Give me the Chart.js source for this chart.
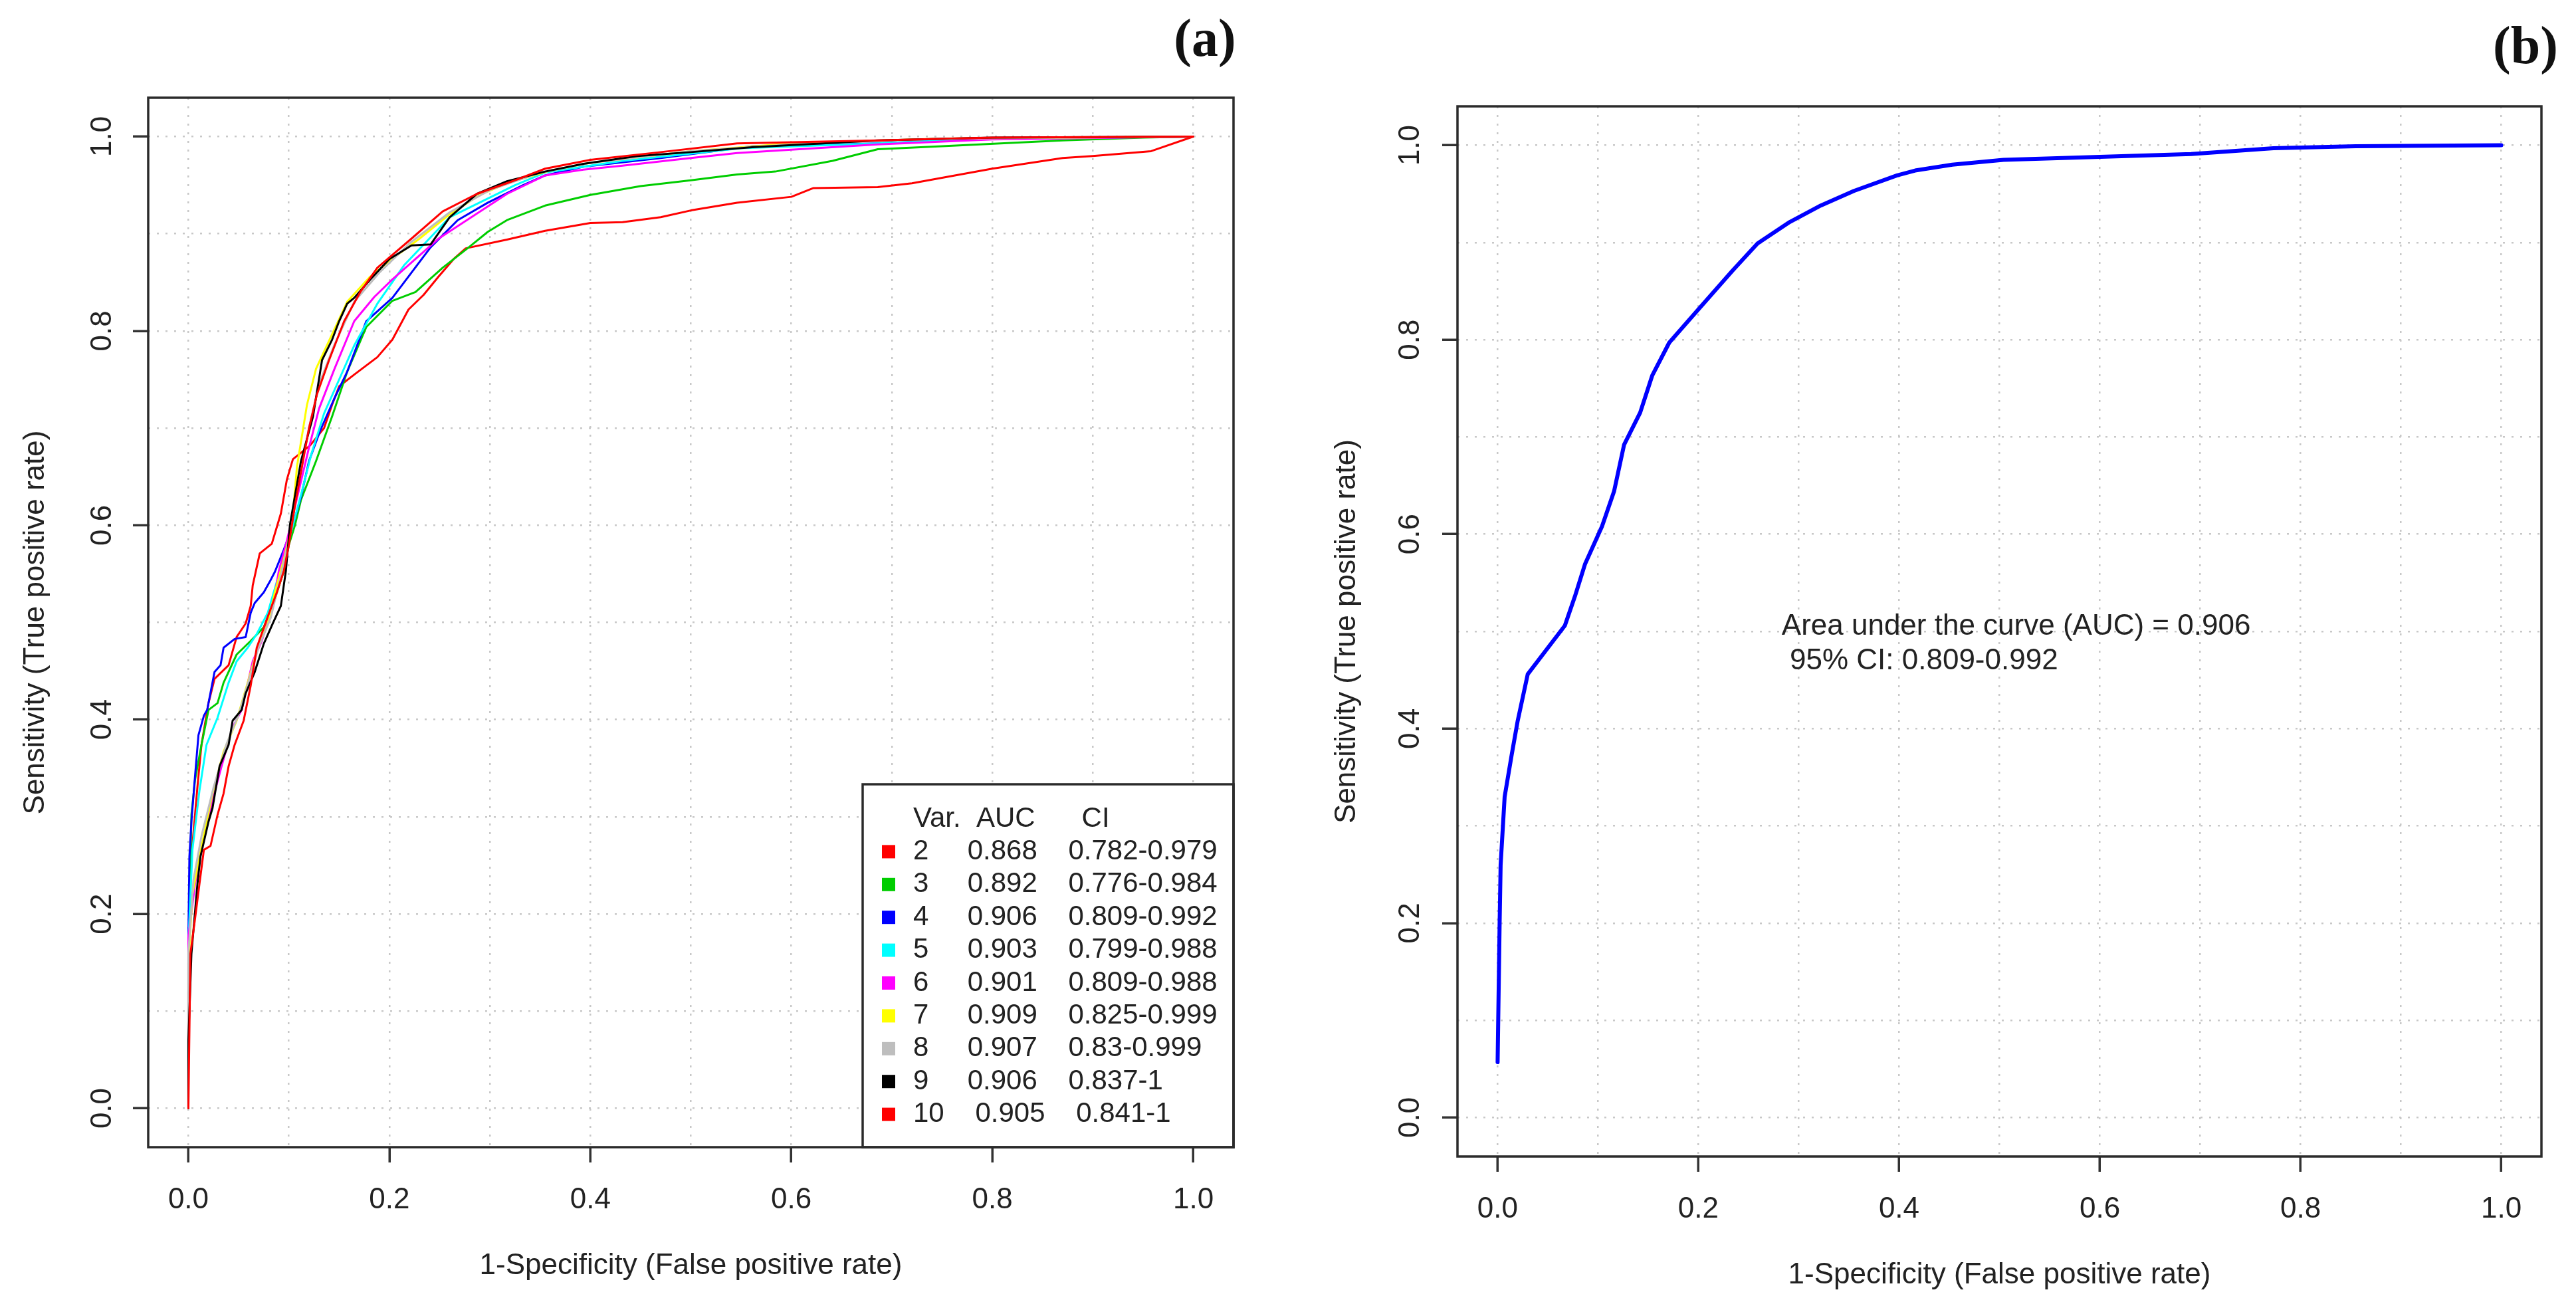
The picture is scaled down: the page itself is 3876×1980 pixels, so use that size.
<!DOCTYPE html>
<html>
<head>
<meta charset="utf-8">
<script src="https://cdn.jsdelivr.net/npm/chart.js@4.4.1/dist/chart.umd.min.js"></script>
<style>
  html, body { margin: 0; padding: 0; background: #fff; }
  #page { position: relative; width: 3876px; height: 1980px; overflow: hidden; background: #fff; }
  canvas { position: absolute; top: 0; }
  .panel-tag { position: absolute; font: bold 80px "Liberation Serif", "Times New Roman", serif; color: #111; transform: translate(-50%, -50%); line-height: 1; }
</style>
</head>
<body>
<div id="page">
  <canvas id="rocA" width="1940" height="1980" style="left:0px"></canvas>
  <canvas id="rocB" width="1936" height="1980" style="left:1940px"></canvas>
  <div class="panel-tag" style="left:1813px; top:57px">(a)</div>
  <div class="panel-tag" style="left:3800px; top:68px">(b)</div>
</div>
<script>
// grade e rótulos dos eixos
const gridValues = [0, 0.1, 0.2, 0.3, 0.4, 0.5, 0.6, 0.7, 0.8, 0.9, 1];
const tickValues = [0, 0.2, 0.4, 0.6, 0.8, 1];
const tickLabels = ['0.0', '0.2', '0.4', '0.6', '0.8', '1.0'];

// legenda do painel (a)
const legendHeader = 'Var.  AUC      CI';
const varNames = ['2', '3', '4', '5', '6', '7', '8', '9', '10'];
const aucValues = ['0.868', '0.892', '0.906', '0.903', '0.901', '0.909', '0.907', '0.906', '0.905'];
const ciLabels = ['0.782-0.979', '0.776-0.984', '0.809-0.992', '0.799-0.988', '0.809-0.988', '0.825-0.999', '0.83-0.999', '0.837-1', '0.841-1'];

// curvas ROC do painel (a): taxa de falso positivo / sensibilidade
const fpr2 = [0, 0, 0.001, 0.003, 0.009, 0.013, 0.02, 0.026, 0.04, 0.048, 0.057, 0.062, 0.064, 0.071, 0.083, 0.092, 0.098, 0.104, 0.121, 0.135, 0.143, 0.15, 0.165, 0.188, 0.203, 0.219, 0.234, 0.249, 0.264, 0.276, 0.317, 0.355, 0.4, 0.432, 0.47, 0.5, 0.546, 0.6, 0.622, 0.686, 0.72, 0.8, 0.87, 0.9, 0.958, 1];
const tpr2 = [0, 0.12, 0.2, 0.259, 0.331, 0.374, 0.417, 0.442, 0.456, 0.485, 0.499, 0.517, 0.538, 0.571, 0.581, 0.612, 0.647, 0.668, 0.682, 0.7, 0.724, 0.743, 0.755, 0.773, 0.791, 0.822, 0.837, 0.856, 0.874, 0.885, 0.894, 0.903, 0.911, 0.912, 0.917, 0.924, 0.932, 0.938, 0.947, 0.948, 0.952, 0.967, 0.978, 0.98, 0.985, 1];
const fpr3 = [0, 0, 0.003, 0.0066, 0.013, 0.02, 0.029, 0.035, 0.048, 0.062, 0.075, 0.086, 0.095, 0.1, 0.106, 0.112, 0.127, 0.143, 0.158, 0.177, 0.203, 0.226, 0.253, 0.279, 0.298, 0.317, 0.355, 0.4, 0.45, 0.5, 0.546, 0.584, 0.641, 0.686, 0.75, 0.87, 0.95, 1];
const tpr3 = [0, 0.15, 0.302, 0.338, 0.374, 0.41, 0.417, 0.438, 0.467, 0.481, 0.495, 0.524, 0.553, 0.58, 0.6, 0.626, 0.666, 0.712, 0.758, 0.804, 0.831, 0.84, 0.865, 0.886, 0.902, 0.914, 0.929, 0.94, 0.949, 0.955, 0.961, 0.964, 0.975, 0.987, 0.99, 0.996, 0.999, 1];
const fpr4 = [0, 0, 0.001, 0.003, 0.0066, 0.01, 0.0154, 0.0187, 0.026, 0.032, 0.035, 0.046, 0.057, 0.062, 0.066, 0.075, 0.081, 0.086, 0.095, 0.104, 0.112, 0.12, 0.131, 0.145, 0.158, 0.177, 0.203, 0.222, 0.241, 0.268, 0.298, 0.333, 0.355, 0.393, 0.47, 0.561, 0.686, 0.8, 1];
const tpr4 = [0, 0.177, 0.259, 0.295, 0.342, 0.384, 0.404, 0.41, 0.449, 0.456, 0.474, 0.483, 0.485, 0.51, 0.52, 0.531, 0.542, 0.552, 0.575, 0.6, 0.629, 0.666, 0.697, 0.73, 0.758, 0.81, 0.834, 0.86, 0.886, 0.914, 0.932, 0.95, 0.96, 0.969, 0.978, 0.99, 0.993, 0.998, 1];
const fpr5 = [0, 0, 0.004, 0.011, 0.018, 0.029, 0.04, 0.048, 0.059, 0.068, 0.079, 0.088, 0.096, 0.104, 0.113, 0.122, 0.135, 0.15, 0.165, 0.188, 0.215, 0.26, 0.325, 0.355, 0.432, 0.55, 0.686, 0.8, 1];
const tpr5 = [0, 0.17, 0.266, 0.327, 0.374, 0.402, 0.438, 0.46, 0.474, 0.488, 0.51, 0.542, 0.57, 0.6, 0.635, 0.672, 0.715, 0.75, 0.785, 0.828, 0.868, 0.917, 0.95, 0.963, 0.975, 0.988, 0.993, 0.998, 1];
const fpr6 = [0, 0, 0.0066, 0.013, 0.024, 0.033, 0.044, 0.053, 0.064, 0.073, 0.084, 0.09, 0.097, 0.104, 0.112, 0.12, 0.13, 0.145, 0.165, 0.185, 0.203, 0.249, 0.317, 0.355, 0.393, 0.432, 0.5, 0.546, 0.686, 0.8, 1];
const tpr6 = [0, 0.177, 0.231, 0.266, 0.317, 0.352, 0.392, 0.41, 0.46, 0.481, 0.517, 0.553, 0.58, 0.61, 0.645, 0.68, 0.72, 0.76, 0.81, 0.835, 0.853, 0.895, 0.941, 0.96, 0.966, 0.97, 0.978, 0.983, 0.992, 0.997, 1];
const fpr7 = [0, 0, 0.004, 0.011, 0.024, 0.035, 0.048, 0.057, 0.068, 0.079, 0.086, 0.095, 0.103, 0.108, 0.118, 0.127, 0.14, 0.158, 0.18, 0.2, 0.23, 0.26, 0.29, 0.32, 0.36, 0.4, 0.5, 0.6, 0.75, 1];
const tpr7 = [0, 0.15, 0.22, 0.259, 0.324, 0.367, 0.399, 0.431, 0.47, 0.499, 0.531, 0.565, 0.6, 0.66, 0.724, 0.761, 0.79, 0.83, 0.855, 0.872, 0.895, 0.92, 0.94, 0.953, 0.965, 0.973, 0.985, 0.993, 0.998, 1];
const fpr8 = [0, 0, 0.005, 0.013, 0.025, 0.038, 0.05, 0.06, 0.07, 0.082, 0.09, 0.1, 0.11, 0.12, 0.13, 0.145, 0.165, 0.19, 0.22, 0.26, 0.3, 0.35, 0.4, 0.5, 0.6, 0.75, 1];
const tpr8 = [0, 0.16, 0.235, 0.28, 0.33, 0.375, 0.405, 0.44, 0.475, 0.505, 0.54, 0.585, 0.645, 0.7, 0.745, 0.785, 0.83, 0.86, 0.89, 0.922, 0.945, 0.963, 0.973, 0.985, 0.992, 0.998, 1];
const fpr9 = [0, 0, 0.003, 0.009, 0.012, 0.02, 0.024, 0.031, 0.04, 0.044, 0.053, 0.057, 0.066, 0.075, 0.084, 0.092, 0.097, 0.101, 0.112, 0.124, 0.133, 0.143, 0.15, 0.158, 0.165, 0.181, 0.2, 0.222, 0.241, 0.26, 0.287, 0.317, 0.355, 0.393, 0.447, 0.5, 0.561, 0.686, 0.8, 1];
const tpr9 = [0, 0.07, 0.159, 0.231, 0.259, 0.295, 0.309, 0.352, 0.374, 0.399, 0.41, 0.427, 0.449, 0.478, 0.499, 0.517, 0.553, 0.6, 0.666, 0.712, 0.77, 0.791, 0.81, 0.828, 0.834, 0.853, 0.874, 0.888, 0.889, 0.917, 0.941, 0.954, 0.964, 0.972, 0.98, 0.984, 0.989, 0.996, 0.999, 1];
const fpr10 = [0, 0.002, 0.0066, 0.011, 0.0154, 0.022, 0.029, 0.035, 0.04, 0.046, 0.055, 0.062, 0.068, 0.079, 0.088, 0.095, 0.1, 0.106, 0.113, 0.12, 0.128, 0.14, 0.155, 0.171, 0.188, 0.222, 0.253, 0.287, 0.325, 0.355, 0.4, 0.47, 0.546, 0.686, 0.8, 1];
const tpr10 = [0, 0.159, 0.195, 0.231, 0.266, 0.27, 0.302, 0.324, 0.352, 0.374, 0.399, 0.435, 0.474, 0.506, 0.531, 0.553, 0.58, 0.62, 0.66, 0.7, 0.735, 0.77, 0.81, 0.84, 0.865, 0.895, 0.923, 0.941, 0.955, 0.967, 0.976, 0.984, 0.993, 0.996, 0.999, 1];

// curva ROC do painel (b)
const fprB = [0, 0.002, 0.003, 0.007, 0.014, 0.02, 0.03, 0.067, 0.077, 0.087, 0.104, 0.116, 0.126, 0.142, 0.154, 0.171, 0.199, 0.234, 0.259, 0.291, 0.322, 0.355, 0.398, 0.416, 0.453, 0.504, 0.6, 0.691, 0.773, 0.855, 1];
const tprB = [0.057, 0.2, 0.26, 0.33, 0.373, 0.408, 0.456, 0.506, 0.536, 0.569, 0.608, 0.644, 0.692, 0.725, 0.763, 0.797, 0.83, 0.871, 0.899, 0.921, 0.938, 0.953, 0.969, 0.974, 0.98, 0.985, 0.988, 0.991, 0.997, 0.999, 1];
const noteLines = ['Area under the curve (AUC) = 0.906', ' 95% CI: 0.809-0.992'];
const noteAt = [0.283, 0.505]; // posição do texto em coordenadas dos dados

// cores da paleta padrão do R (col = 2:10)
const varColors = ['#ff0000', '#00cd00', '#0000ff', '#00ffff', '#ff00ff', '#ffff00', '#bebebe', '#000000', '#ff0000'];

const fprs = [fpr2, fpr3, fpr4, fpr5, fpr6, fpr7, fpr8, fpr9, fpr10];
const tprs = [tpr2, tpr3, tpr4, tpr5, tpr6, tpr7, tpr8, tpr9, tpr10];

const FONT = '"Liberation Sans", Arial, sans-serif';
Chart.defaults.font.family = FONT;
Chart.defaults.color = '#222';

const round1 = v => Math.round(v * 10) / 10;
const toPoints = (xs, ys) => xs.map((x, i) => ({ x: x, y: ys[i] }));

// geometria da área de plotagem de cada painel (px dentro do canvas)
const boxA = { left: 223, top: 147, right: 1856, bottom: 1726, xTickPad: 30, yTickPad: 14.5, xTitlePad: 48.6, yTitlePad: 27.6 };
const boxB = { left: 253, top: 160, right: 1884, bottom: 1740, xTickPad: 30, yTickPad: 16.5, xTitlePad: 34.6, yTitlePad: 60.6 };

function axisOptions(isX, title, box, H) {
  return {
    type: 'linear',
    position: isX ? 'bottom' : 'left',
    min: -0.04,
    max: 1.04,
    afterBuildTicks: s => { s.ticks = gridValues.map(v => ({ value: v })); },
    afterFit: s => { if (isX) s.height = H - box.bottom; else s.width = box.left; },
    border: { display: false, dash: [3, 10] },
    grid: {
      color: '#c8c8c8',
      lineWidth: 2.5,
      drawTicks: true,
      tickLength: 23,
      tickWidth: 3.5,
      tickBorderDash: [],
      tickColor: c => tickValues.includes(round1(c.tick.value)) ? '#333' : 'rgba(0,0,0,0)'
    },
    ticks: {
      autoSkip: false,
      padding: isX ? box.xTickPad : box.yTickPad,
      minRotation: isX ? 0 : 90,
      maxRotation: isX ? 0 : 90,
      crossAlign: isX ? 'near' : 'center',
      color: '#222',
      font: { size: 44 },
      callback: v => {
        const i = tickValues.indexOf(round1(v));
        return i < 0 ? '' : tickLabels[i];
      }
    },
    title: {
      display: true,
      text: title,
      color: '#222',
      font: { size: 44 },
      padding: isX ? { top: 0, bottom: box.xTitlePad } : { top: box.yTitlePad, bottom: 0 }
    }
  };
}

// moldura (box) em volta da área de plotagem
const frame = {
  id: 'frame',
  afterDatasetsDraw(chart) {
    const { ctx, chartArea: a } = chart;
    ctx.save();
    ctx.lineWidth = 3.5;
    ctx.strokeStyle = '#2b2b2b';
    ctx.strokeRect(a.left, a.top, a.right - a.left, a.bottom - a.top);
    ctx.restore();
  }
};

// legenda no canto inferior direito, como no R
const aucLegend = {
  id: 'aucLegend',
  afterDatasetsDraw(chart) {
    const { ctx, chartArea: a } = chart;
    const w = 558, h = 546;
    const left = a.right - w, top = a.bottom - h;
    ctx.save();
    ctx.fillStyle = '#fff';
    ctx.fillRect(left, top, w, h);
    ctx.lineWidth = 3.5;
    ctx.strokeStyle = '#2b2b2b';
    ctx.strokeRect(left, top, w, h);
    ctx.font = '42px ' + FONT;
    ctx.textAlign = 'left';
    ctx.textBaseline = 'middle';
    ctx.fillStyle = '#222';
    const rowH = 49.4, firstRow = top + 52;
    ctx.fillText(legendHeader, left + 76, firstRow);
    varNames.forEach((v, i) => {
      const y = firstRow + rowH * (i + 1);
      ctx.fillStyle = varColors[i];
      ctx.fillRect(left + 29, y - 10, 20, 20);
      ctx.fillStyle = '#222';
      const gap = v.length > 1 ? '    ' : '     ';
      ctx.fillText(v + gap + aucValues[i] + '    ' + ciLabels[i], left + 76, y);
    });
    ctx.restore();
  }
};

// texto da AUC no painel (b)
const aucNote = {
  id: 'aucNote',
  afterDatasetsDraw(chart) {
    const { ctx, scales } = chart;
    const px = scales.x.getPixelForValue(noteAt[0]);
    const py = scales.y.getPixelForValue(noteAt[1]);
    ctx.save();
    ctx.font = '44px ' + FONT;
    ctx.fillStyle = '#222';
    ctx.textAlign = 'left';
    ctx.textBaseline = 'middle';
    noteLines.forEach((t, i) => ctx.fillText(t, px, py + i * 52));
    ctx.restore();
  }
};

function rocChart(canvas, datasets, box, extraPlugins) {
  const W = canvas.width, H = canvas.height;
  return new Chart(canvas, {
    type: 'line',
    data: { datasets: datasets },
    options: {
      responsive: false,
      animation: false,
      devicePixelRatio: 1,
      layout: { padding: { left: 0, top: box.top, right: W - box.right, bottom: 0 } },
      plugins: { legend: { display: false }, tooltip: { enabled: false } },
      elements: {
        point: { radius: 0 },
        line: { tension: 0, borderCapStyle: 'round', borderJoinStyle: 'round' }
      },
      scales: {
        x: axisOptions(true, '1-Specificity (False positive rate)', box, H),
        y: axisOptions(false, 'Sensitivity (True positive rate)', box, H)
      }
    },
    plugins: extraPlugins.concat([frame])
  });
}

const datasetsA = varNames.map((v, i) => ({
  label: 'Var. ' + v,
  data: toPoints(fprs[i], tprs[i]),
  borderColor: varColors[i],
  borderWidth: 3,
  fill: false,
  order: varNames.length - 1 - i // a última variável fica por cima
}));

const datasetsB = [{
  label: 'ROC',
  data: toPoints(fprB, tprB),
  borderColor: '#0000ff',
  borderWidth: 6,
  fill: false
}];

rocChart(document.getElementById('rocA'), datasetsA, boxA, [aucLegend]);
rocChart(document.getElementById('rocB'), datasetsB, boxB, [aucNote]);
</script>
</body>
</html>
